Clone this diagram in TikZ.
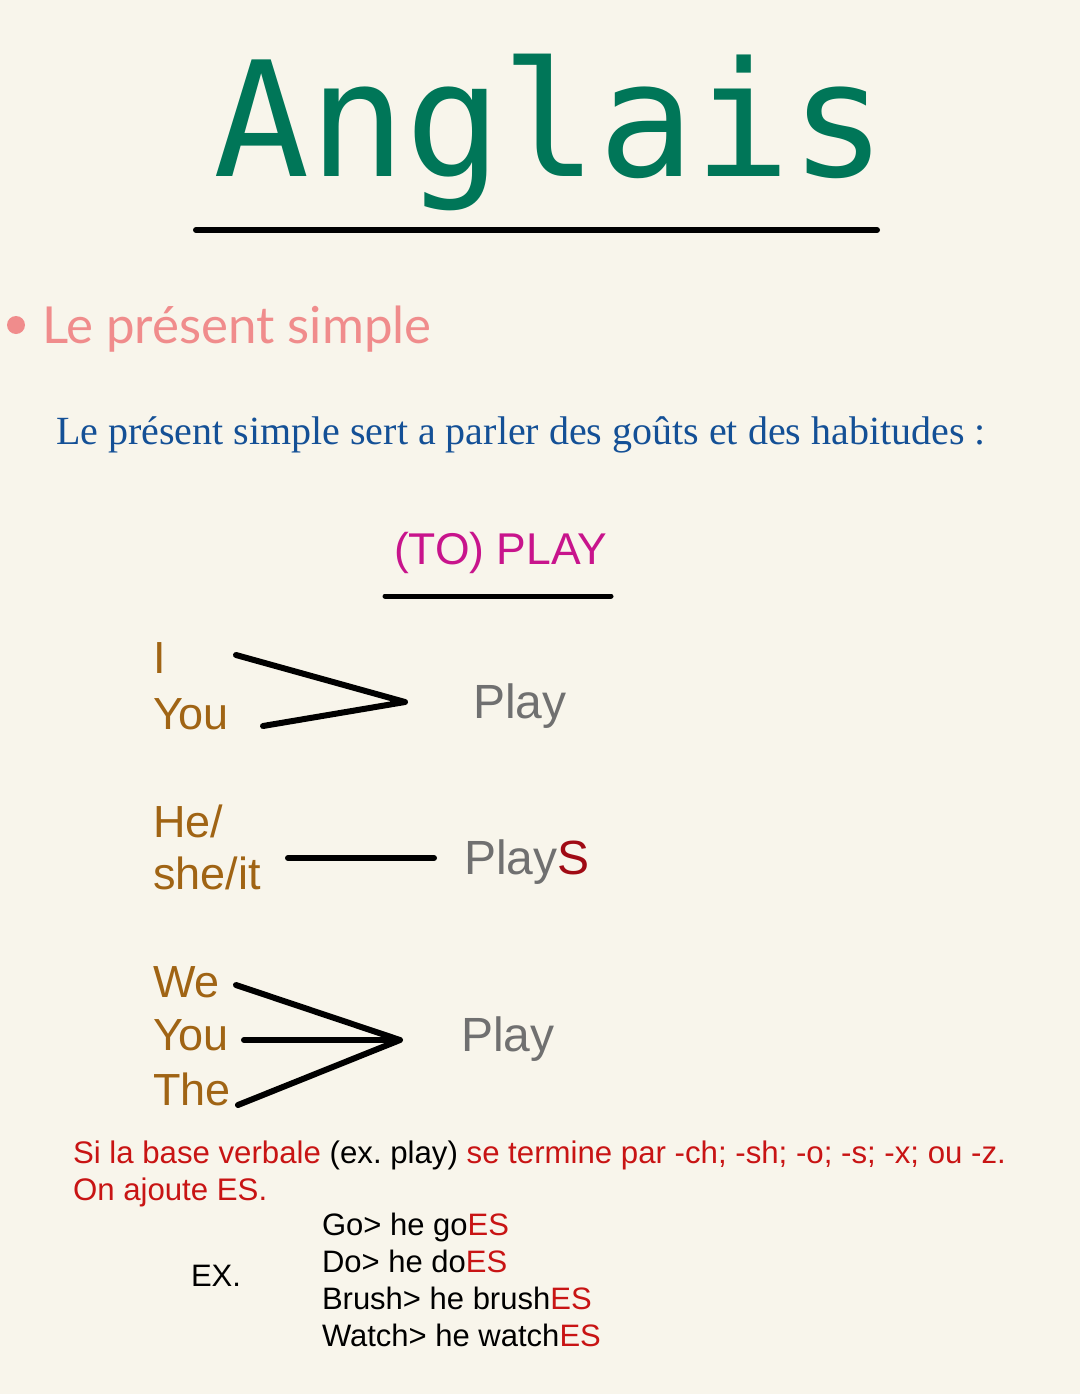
\documentclass[tikz,border=0pt]{standalone}
\usepackage{fontspec}
\setmainfont{Liberation Sans}
\newfontfamily\titlefont{DejaVu Sans Mono}
\newfontfamily\headfont{Lato}
\newfontfamily\serfont{Liberation Serif}
\frenchspacing
\definecolor{bgc}{RGB}{248,245,235}
\definecolor{titlegreen}{RGB}{0,118,88}
\definecolor{pinkc}{RGB}{240,140,140}
\definecolor{bluec}{RGB}{20,80,150}
\definecolor{magc}{RGB}{200,20,140}
\definecolor{brownc}{RGB}{160,100,20}
\definecolor{greyc}{RGB}{112,112,112}
\definecolor{darkred}{RGB}{160,10,20}
\definecolor{redc}{RGB}{200,20,20}
\tikzset{
  txt/.style={anchor=base west, inner sep=0pt, outer sep=0pt},
  pron/.style={txt, text=brownc, font=\fontsize{45}{48}\selectfont},
  verb/.style={txt, text=greyc, font=\fontsize{48}{50}\selectfont},
  rule/.style={line width=6pt, line cap=round, black},
  chev/.style={line width=6pt, line cap=round, line join=round, black},
  ex/.style={txt, text=black, font=\fontsize{31}{34}\selectfont},
}
\begin{document}
\begin{tikzpicture}[x=1pt,y=-1pt]
\fill[bgc] (0,0) rectangle (1080,1394);
\useasboundingbox (0,0) rectangle (1080,1394);

% title
\node[txt, text=titlegreen, font=\titlefont\fontsize{160}{162}\selectfont] (title) at (213,176) {Anglais};
\coordinate (tl) at (196,230);
\coordinate (tr) at (877,230);
\draw[rule] (tl) -- (tr);

% heading
\fill[pinkc] (16,325) circle (9) coordinate (bullet);
\node[txt, text=pinkc, font=\headfont\fontsize{51}{54}\selectfont] (head) at (42,343) {Le présent simple};

\node[txt, text=bluec, font=\serfont\fontsize{40}{42}\selectfont] (intro) at (56,444) {Le présent simple sert a parler des goûts et des habitudes :};

\node[txt, text=magc, font=\fontsize{44.5}{48}\selectfont] (toplay) at (394,564) {(TO) PLAY};
\coordinate (ul) at (385,596);
\coordinate (ur) at (611,596);
\draw[line width=5pt, line cap=round] (ul) -- (ur);

% group 1
\node[pron] (i) at (153,673) {I};
\node[pron] (you1) at (153,729) {You};
\node[verb] (play1) at (473,718) {Play};
\coordinate (c1a) at (236,655);
\coordinate (c1v) at (405,702);
\coordinate (c1b) at (263,726);
\draw[chev] (c1a) -- (c1v) -- (c1b);

% group 2
\node[pron] (he) at (153,837) {He/};
\node[pron] (she) at (153,889) {she/it};
\node[verb] (plays) at (464,874) {Play\textcolor{darkred}{S}};
\coordinate (l2a) at (288,858);
\coordinate (l2b) at (434,858);
\draw[chev] (l2a) -- (l2b);

% group 3
\node[pron] (we) at (153,997) {We};
\node[pron] (you2) at (153,1050) {You};
\node[pron] (they) at (153,1105) {The};
\node[verb] (play3) at (461,1051) {Play};
\coordinate (c3v) at (400,1040);
\coordinate (c3a) at (236,985);
\coordinate (c3b) at (244,1040);
\coordinate (c3c) at (238,1105);
\draw[chev] (c3a) -- (c3v) -- (c3c);
\draw[chev] (c3b) -- (c3v);

% rule text
\node[txt, text=redc, font=\fontsize{31.2}{34}\selectfont] (r1) at (73,1163) {Si la base verbale \textcolor{black}{(ex. play)} se termine par -ch; -sh; -o; -s; -x; ou -z.};
\node[txt, text=redc, font=\fontsize{31.2}{34}\selectfont] (r2) at (73,1200) {On ajoute ES.};

% examples
\node[ex] (exl) at (191,1286) {EX.};
\node[ex] (e1) at (322,1235) {Go> he go\textcolor{redc}{ES}};
\node[ex] (e2) at (322,1272) {Do> he do\textcolor{redc}{ES}};
\node[ex] (e3) at (322,1309) {Brush> he brush\textcolor{redc}{ES}};
\node[ex] (e4) at (322,1346) {Watch> he watch\textcolor{redc}{ES}};
\end{tikzpicture}
\end{document}
